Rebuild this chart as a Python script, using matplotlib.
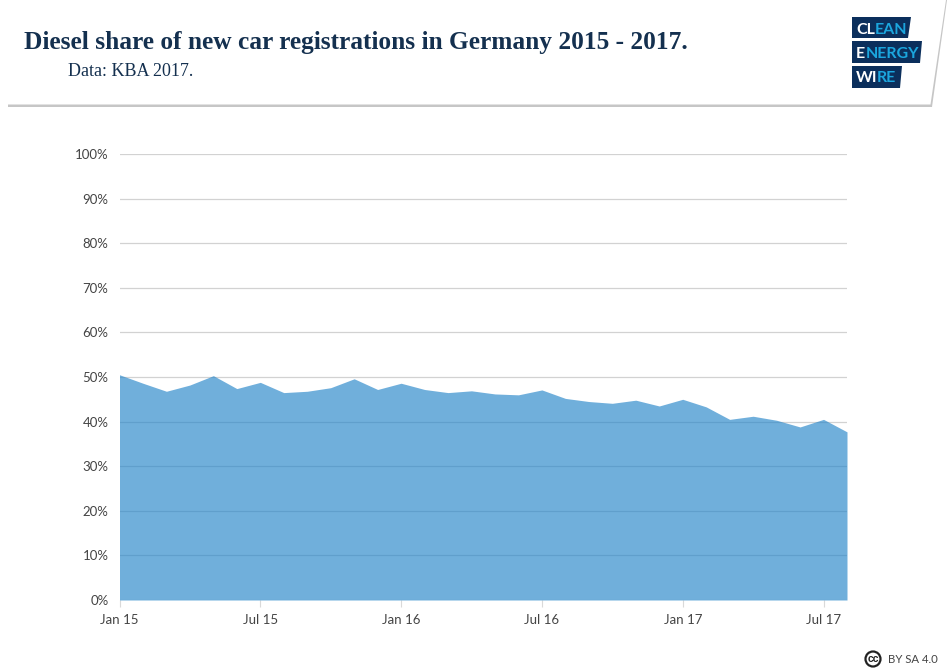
import matplotlib
matplotlib.use("Agg")
import matplotlib.pyplot as plt
from matplotlib.patches import Polygon, Circle

W, H = 950, 672

months = list(range(32))
diesel_share = [
    50.5, 48.6, 46.8, 48.2, 50.3, 47.4, 48.8, 46.5, 46.8, 47.6, 49.6, 47.2,
    48.6, 47.2, 46.5, 46.9, 46.2, 46.0, 47.1, 45.2, 44.5, 44.1, 44.8, 43.5,
    45.0, 43.3, 40.5, 41.2, 40.3, 38.8, 40.5, 37.7,
]
x_ticks = [0, 6, 12, 18, 24, 30]
x_labels = ["Jan 15", "Jul 15", "Jan 16", "Jul 16", "Jan 17", "Jul 17"]
y_ticks = list(range(0, 101, 10))
y_labels = [f"{v}%" for v in y_ticks]

TITLE = "#14304f"
TICK = "#444444"
NAVY = "#0b2f5c"
CYAN = "#1ba6de"

plt.rcParams["font.family"] = ["Lato", "DejaVu Sans"]

fig = plt.figure(figsize=(W / 100, H / 100), dpi=100, facecolor="white")

# chart area, placed in pixels
left, right, top, bottom = 119.5, 847, 154, 600
ax = fig.add_axes([left / W, 1 - bottom / H, (right - left) / W, (bottom - top) / H])
ax.fill_between(months, diesel_share, 0, color="#2384c9", alpha=0.65, lw=0, zorder=3)
ax.set_xlim(0, 31)
ax.set_ylim(0, 100)
ax.set_xticks(x_ticks, x_labels)
ax.set_yticks(y_ticks, y_labels)
ax.grid(axis="y", color="#d2d2d2", lw=0.9, zorder=1)
ax.tick_params(axis="y", length=0, pad=8, labelsize=9.5, labelcolor=TICK)
ax.tick_params(axis="x", length=5, width=0.8, color="#d9d9d9", pad=5, labelsize=9.5, labelcolor=TICK)
for spine in ax.spines.values():
    spine.set_visible(False)

# overlay in pixel coordinates for the header, logo and licence mark
deco = fig.add_axes([0, 0, 1, 1], facecolor="none")
deco.set_xlim(0, W)
deco.set_ylim(H, 0)
deco.axis("off")

deco.add_patch(Polygon([(8, 0), (947, 0), (932, 107), (8, 107)], fc="#c6c6c6", ec="none"))
deco.add_patch(Polygon([(0, 0), (946, 0), (930.5, 104.5), (8, 104.5), (0, 100)], fc="white", ec="none"))

deco.text(24, 49, "Diesel share of new car registrations in Germany 2015 - 2017.",
          family=["Liberation Serif", "DejaVu Serif"], weight="bold", fontsize=18.3, color=TITLE)
deco.text(68, 76, "Data: KBA 2017.", family=["Liberation Serif", "DejaVu Serif"],
          fontsize=13, color=TITLE)

logo_boxes = [
    [(852, 17), (911, 17), (908, 38), (852, 38)],
    [(852, 41), (922, 41), (920, 63), (852, 63)],
    [(852, 66), (902, 66), (900, 88), (852, 88)],
]
for box in logo_boxes:
    deco.add_patch(Polygon(box, fc=NAVY, ec="none"))

logo_text = [
    (856, 33.5, "CL", "white"), (875, 33.5, "EAN", CYAN),
    (856, 57.5, "E", "white"), (866, 57.5, "NERGY", CYAN),
    (856, 82.5, "WI", "white"), (877, 82.5, "RE", CYAN),
]
for tx, ty, s, c in logo_text:
    deco.text(tx, ty, s, weight="bold", fontsize=11.5, color=c)

deco.add_patch(Circle((873, 659), 7.5, fc="white", ec="#222222", lw=1.6))
deco.text(873, 659, "cc", family="Liberation Sans", weight="bold", fontsize=7.5,
          color="#222222", ha="center", va="center")
deco.text(888, 663, "BY SA 4.0", fontsize=8.2, color=TICK)

fig.savefig("out.png", dpi=100)
